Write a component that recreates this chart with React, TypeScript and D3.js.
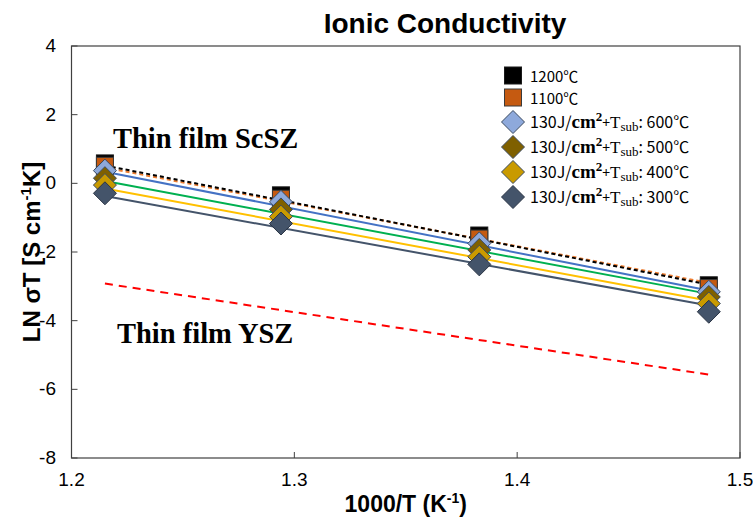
import React from "react";
import * as d3 from "d3";

const xVals = [1.215, 1.294, 1.383, 1.486];
const s1200 = [0.58, -0.35, -1.52, -2.97];
const s1100 = [0.51, -0.45, -1.61, -3.05];
const s600 = [0.37, -0.54, -1.75, -3.16];
const s500 = [0.15, -0.76, -1.94, -3.31];
const s400 = [-0.05, -0.97, -2.14, -3.5];
const s300 = [-0.29, -1.17, -2.36, -3.74];

const trendX = [1.215, 1.486];
const t1200 = [0.52, -2.95];
const t1100 = [0.46, -2.9];
const t600 = [0.34, -3.12];
const t500 = [0.07, -3.22];
const t400 = [-0.15, -3.42];
const t300 = [-0.37, -3.56];
const tYSZ = [-2.92, -5.57];

const xTicks = [1.2, 1.3, 1.4, 1.5];
const yTicks = [4, 2, 0, -2, -4, -6, -8];

const legendLabels = ["1200℃", "1100℃", "600℃", "500℃", "400℃", "300℃"];

const W = 753, H = 517;
const L = 71.5, R = 740, T = 46, B = 458;

const x = d3.scaleLinear().domain([1.2, 1.5]).range([L, R]);
const y = d3.scaleLinear().domain([-8, 4]).range([B, T]);

const series = [
  { vals: s1200, trend: t1200, shape: "square", fill: "#000000", stroke: "#1a1a1a", line: "#000000", dash: "4,3" },
  { vals: s1100, trend: t1100, shape: "square", fill: "#C55A11", stroke: "#3a3a3a", line: "#ED7D31", dash: "4,3" },
  { vals: s600, trend: t600, shape: "diamond", fill: "#8EA9DB", stroke: "#3b4a60", line: "#4472C4", dash: null },
  { vals: s500, trend: t500, shape: "diamond", fill: "#7F6000", stroke: "#3b4a60", line: "#00B050", dash: null },
  { vals: s400, trend: t400, shape: "diamond", fill: "#C99A00", stroke: "#3b4a60", line: "#FFC000", dash: null },
  { vals: s300, trend: t300, shape: "diamond", fill: "#44546A", stroke: "#2a3444", line: "#44546A", dash: null },
];

const line = d3.line<[number, number]>().x((d) => x(d[0])).y((d) => y(d[1]));

function Marker({ shape, cx, cy, fill, stroke }: any) {
  if (shape === "square") {
    const s = 17;
    return <rect x={cx - s / 2} y={cy - s / 2} width={s} height={s} fill={fill} stroke={stroke} strokeWidth={1} />;
  }
  const r = 11.5;
  return (
    <path
      d={`M${cx},${cy - r}L${cx + r},${cy}L${cx},${cy + r}L${cx - r},${cy}Z`}
      fill={fill}
      stroke={stroke}
      strokeWidth={1}
    />
  );
}

const sans = "'Liberation Sans', Arial, sans-serif";
const narrow = "'Liberation Sans Narrow', 'Arial Narrow', 'Liberation Sans', sans-serif";
const serif = "'Liberation Serif', 'Times New Roman', serif";
const kr = "'Noto Sans CJK KR', 'Noto Sans', sans-serif";

export default function App() {
  const legendY = [75.5, 97.5, 122, 147, 172, 197];
  return (
    <svg width={W} height={H} style={{ position: "absolute", left: 0, top: 0 }} xmlns="http://www.w3.org/2000/svg">
      <rect x={0} y={0} width={W} height={H} fill="#ffffff" />
      <text x={445} y={33} textAnchor="middle" fontFamily={sans} fontWeight="bold" fontSize={28} fill="#000">
        Ionic Conductivity
      </text>
      {/* plot frame */}
      <rect x={L} y={T} width={R - L} height={B - T} fill="none" stroke="#404040" strokeWidth={1.2} />
      {yTicks.map((t) => (
        <g key={"y" + t}>
          <line x1={L} x2={L + 6} y1={y(t)} y2={y(t)} stroke="#404040" strokeWidth={1} />
          <text x={56} y={y(t) + 6} textAnchor="end" fontFamily={narrow} fontSize={19} fill="#000">
            {t}
          </text>
        </g>
      ))}
      {xTicks.map((t) => (
        <g key={"x" + t}>
          <line x1={x(t)} x2={x(t)} y1={B} y2={B - 6} stroke="#404040" strokeWidth={1} />
          <text x={x(t)} y={486} textAnchor="middle" fontFamily={narrow} fontSize={19} fill="#000">
            {t.toFixed(1)}
          </text>
        </g>
      ))}
      <text x={(L + R) / 2} y={512} textAnchor="middle" fontFamily={sans} fontWeight="bold" fontSize={23} fill="#000">
        1000/T (K<tspan fontSize={14} dy={-9}>-1</tspan>
        <tspan dy={9}>)</tspan>
      </text>
      <text
        transform={`translate(40,${(T + B) / 2}) rotate(-90)`}
        textAnchor="middle"
        fontFamily={sans}
        fontWeight="bold"
        fontSize={24}
        fill="#000"
      >
        LN σT [S cm<tspan fontSize={15} dy={-9}>-1</tspan>
        <tspan dy={9}>K]</tspan>
      </text>

      <text x={113} y={148} fontFamily={serif} fontWeight="bold" fontSize={28.5} fill="#000">
        Thin film ScSZ
      </text>
      <text x={117} y={343} fontFamily={serif} fontWeight="bold" fontSize={28.5} fill="#000">
        Thin film YSZ
      </text>

      {/* YSZ line */}
      <path
        d={line(trendX.map((v, i) => [v, tYSZ[i]]) as [number, number][]) || ""}
        fill="none"
        stroke="#FF0000"
        strokeWidth={2}
        strokeDasharray="8,6"
      />
      {/* trend lines */}
      {series
        .slice()
        .reverse()
        .map((s, i) => (
          <path
            key={"t" + i}
            d={line(trendX.map((v, j) => [v, s.trend[j]]) as [number, number][]) || ""}
            fill="none"
            stroke={s.line}
            strokeWidth={2}
            strokeDasharray={s.dash || undefined}
          />
        ))}
      {/* markers */}
      {series.map((s, i) => (
        <g key={"m" + i}>
          {s.vals.map((v, j) => (
            <Marker key={j} shape={s.shape} cx={x(xVals[j])} cy={y(v)} fill={s.fill} stroke={s.stroke} />
          ))}
        </g>
      ))}

      {/* legend */}
      {series.map((s, i) => (
        <g key={"l" + i}>
          <Marker shape={s.shape} cx={513} cy={legendY[i]} fill={s.fill} stroke={s.stroke} />
          {i < 2 ? (
            <text x={530} y={legendY[i] + 6} fontFamily={kr} fontSize={15} fill="#000">
              {legendLabels[i]}
            </text>
          ) : (
            <text x={530} y={legendY[i] + 6} fontFamily={kr} fontSize={16} fill="#000">
              130J/
              <tspan fontFamily={serif} fontWeight="bold" fontSize={19}>cm</tspan>
              <tspan fontFamily={serif} fontWeight="bold" fontSize={13} dy={-7}>2</tspan>
              <tspan fontSize={14} dy={7}>+</tspan>
              <tspan fontFamily={serif} fontSize={17}>T</tspan>
              <tspan fontFamily={serif} fontSize={13} dy={3}>sub</tspan>
              <tspan dy={-3}>: {legendLabels[i]}</tspan>
            </text>
          )}
        </g>
      ))}
    </svg>
  );
}
